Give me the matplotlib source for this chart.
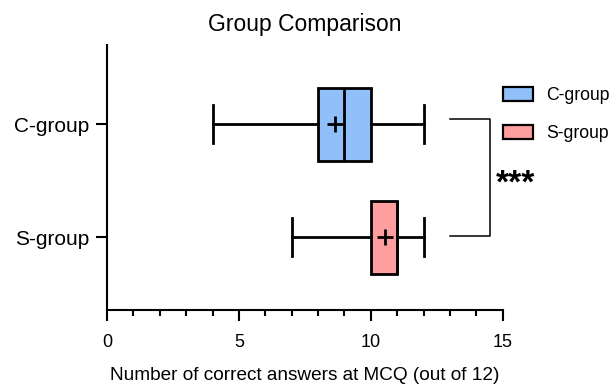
import matplotlib
matplotlib.use("Agg")
import matplotlib.pyplot as plt
from matplotlib.patches import Patch

plt.rcParams['font.family'] = ['Liberation Sans', 'DejaVu Sans']

groups = ['S-group', 'C-group']
whislo = [7, 4]
q1 = [10, 8]
med = [11, 9]
q3 = [11, 10]
whishi = [12, 12]
means = [10.55, 8.65]
colors = ['#FF9E9E', '#90BFF9']

fig = plt.figure(figsize=(6.11, 3.86), dpi=100)
ax = fig.add_axes([0.175, 0.197, 0.648, 0.686])

stats = []
for i in range(len(groups)):
    stats.append(dict(label=groups[i], whislo=whislo[i], q1=q1[i], med=med[i],
                      q3=q3[i], whishi=whishi[i], mean=means[i], fliers=[]))

bp = ax.bxp(stats, positions=[0, 1], vert=False, widths=0.646, patch_artist=True,
            showmeans=True, showcaps=True,
            boxprops=dict(linewidth=2, edgecolor='black'),
            whiskerprops=dict(linewidth=2, color='black'),
            capprops=dict(linewidth=2, color='black'),
            medianprops=dict(linewidth=2, color='black'),
            meanprops=dict(marker='+', markersize=12, markeredgewidth=2,
                           markeredgecolor='black'),
            capwidths=0.34)
for patch, c in zip(bp['boxes'], colors):
    patch.set_facecolor(c)

ax.set_xlim(0, 15)
ax.set_ylim(-0.646, 1.70)
ax.set_xticks([0, 5, 10, 15])
ax.set_xticks(range(0, 16), minor=True)
ax.set_yticks([0, 1])
ax.set_yticklabels(groups)

for s in ['top', 'right']:
    ax.spines[s].set_visible(False)
for s in ['left', 'bottom']:
    ax.spines[s].set_linewidth(1.5)
ax.tick_params(axis='x', which='major', width=1.5, length=8, labelsize=13, pad=9)
ax.tick_params(axis='x', which='minor', width=1.5, length=4.5)
ax.tick_params(axis='y', width=1.5, length=8, labelsize=15, pad=5)

ax.set_title('Group Comparison', fontsize=16.5, pad=10)
ax.set_xlabel('Number of correct answers at MCQ (out of 12)', fontsize=13.7, labelpad=12)

# significance bracket
ax.plot([13, 14.5, 14.5, 13], [1.05, 1.05, 0.01, 0.01], color='black', lw=1.1, clip_on=False)
ax.text(14.75, 0.47, '***', fontsize=24, fontweight='bold', ha='left', va='center')

handles = [Patch(facecolor=colors[1], edgecolor='black', linewidth=1.6, label='C-group'),
           Patch(facecolor=colors[0], edgecolor='black', linewidth=1.6, label='S-group')]
fig.legend(handles=handles, loc='upper left', bbox_to_anchor=(0.823, 0.775), frameon=False,
           fontsize=12.7, handlelength=1.7, handleheight=0.85, labelspacing=1.2, handletextpad=0.74,
           borderpad=0, borderaxespad=0)

fig.savefig('out.png', dpi=100)
